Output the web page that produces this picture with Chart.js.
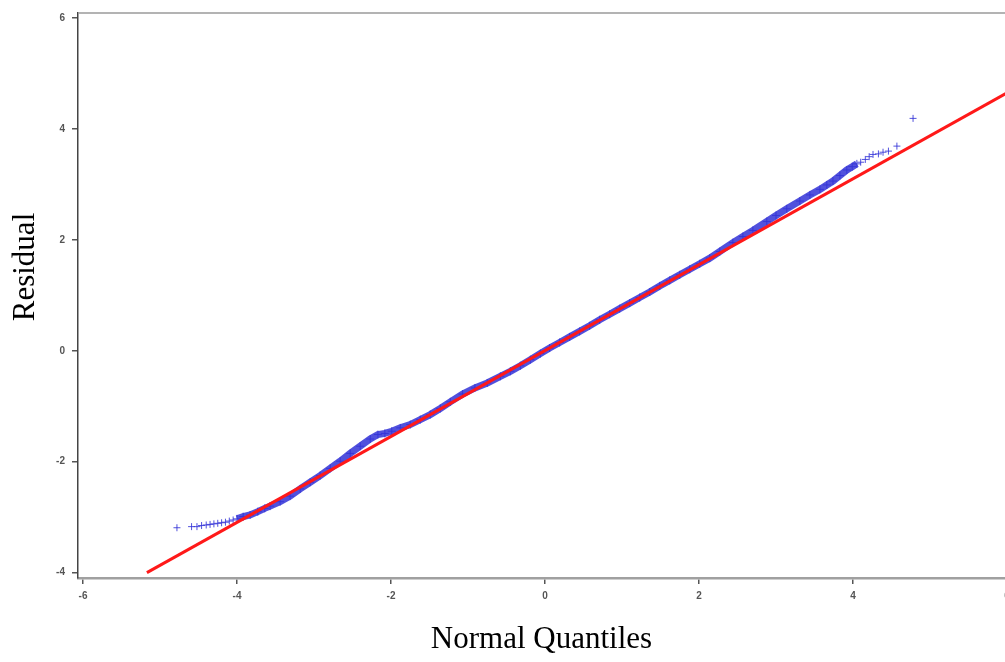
<!DOCTYPE html>
<html>
<head>
<meta charset="utf-8">
<script src="https://cdn.jsdelivr.net/npm/chart.js@4.4.1/dist/chart.umd.min.js"></script>
<style>
  html, body { margin: 0; padding: 0; background: #fff; }
  #wrap { width: 1005px; height: 662px; }
</style>
</head>
<body>
<div id="wrap"><canvas id="qq"></canvas></div>
<script>
// tick values
const xTicks = [-6, -4, -2, 0, 2, 4, 6];
const yTicks = [-4, -2, 0, 2, 4, 6];

// reference line (normal fit)
const refX = [-5.17, 6.0];
const refY = [-4.0, 4.65];

// lower tail residuals (isolated crosses)
const lowTailX = [-4.78, -4.59, -4.52, -4.46, -4.40, -4.35, -4.30, -4.25, -4.20, -4.15, -4.10, -4.05];
const lowTailY = [-3.19, -3.17, -3.17, -3.15, -3.14, -3.13, -3.12, -3.11, -3.10, -3.09, -3.07, -3.05];

// dense body of the residuals
const bodyX = [-4.00, -3.92, -3.83, -3.73, -3.64, -3.57, -3.44, -3.31, -3.18, -3.05,
  -2.92, -2.79, -2.66, -2.53, -2.40, -2.27, -2.17, -2.08, -1.99, -1.88,
  -1.75, -1.62, -1.49, -1.36, -1.23, -1.07, -0.91, -0.75, -0.58, -0.45,
  -0.32, -0.19, -0.06, 0.06, 0.19, 0.32, 0.45, 0.58, 0.71, 0.84,
  0.97, 1.10, 1.23, 1.36, 1.49, 1.62, 1.75, 1.88, 2.01, 2.14,
  2.27, 2.44, 2.57, 2.70, 2.88, 3.00, 3.14, 3.31, 3.44, 3.57,
  3.66, 3.74, 3.83, 3.92, 3.99, 4.05];
const bodyY = [-3.03, -2.99, -2.96, -2.90, -2.84, -2.80, -2.72, -2.62, -2.49, -2.37,
  -2.25, -2.12, -1.99, -1.85, -1.72, -1.59, -1.51, -1.49, -1.45, -1.39,
  -1.33, -1.24, -1.15, -1.04, -0.92, -0.78, -0.67, -0.58, -0.46, -0.37,
  -0.27, -0.16, -0.05, 0.05, 0.15, 0.25, 0.35, 0.45, 0.56, 0.66,
  0.76, 0.86, 0.96, 1.06, 1.17, 1.27, 1.37, 1.47, 1.57, 1.67,
  1.79, 1.95, 2.06, 2.17, 2.33, 2.44, 2.56, 2.70, 2.81, 2.91,
  2.99, 3.06, 3.16, 3.26, 3.32, 3.37];

// upper tail residuals
const highTailX = [4.10, 4.16, 4.21, 4.26, 4.33, 4.39, 4.46, 4.57, 4.78];
const highTailY = [3.40, 3.45, 3.50, 3.54, 3.55, 3.58, 3.60, 3.69, 4.19];

const blue = 'rgba(50, 50, 215, 0.85)';
const toPoints = (xs, ys) => xs.map((x, i) => ({ x: x, y: ys[i] }));

// y title and top frame line drawn by hand
const framePlugin = {
  id: 'frame',
  afterDraw(chart) {
    const { ctx, chartArea } = chart;
    ctx.save();
    ctx.strokeStyle = '#9a9a9a';
    ctx.lineWidth = 1.5;
    ctx.beginPath();
    ctx.moveTo(chartArea.left, chartArea.top);
    ctx.lineTo(chartArea.right, chartArea.top);
    ctx.stroke();

    ctx.translate(26, 267);
    ctx.rotate(-Math.PI / 2);
    ctx.fillStyle = '#000';
    ctx.font = '31px "Liberation Serif", "Times New Roman", serif';
    ctx.textAlign = 'center';
    ctx.textBaseline = 'middle';
    ctx.fillText('Residual', 0, 0);
    ctx.restore();
  }
};

const tickFont = { family: '"Liberation Sans", Arial, sans-serif', size: 10, weight: 'bold' };

new Chart(document.getElementById('qq'), {
  type: 'scatter',
  data: {
    datasets: [
      {
        label: 'Normal line',
        data: toPoints(refX, refY),
        showLine: true,
        borderColor: 'rgb(255, 25, 25)',
        borderWidth: 3,
        pointRadius: 0
      },
      {
        label: 'Residuals',
        data: toPoints(bodyX, bodyY),
        showLine: true,
        borderColor: blue,
        borderWidth: 7,
        pointStyle: 'cross',
        pointRadius: 4,
        pointBorderColor: blue,
        pointBorderWidth: 1
      },
      {
        label: 'Lower tail',
        data: toPoints(lowTailX, lowTailY),
        pointStyle: 'cross',
        pointRadius: 3.5,
        borderColor: blue,
        pointBorderWidth: 1
      },
      {
        label: 'Upper tail',
        data: toPoints(highTailX, highTailY),
        pointStyle: 'cross',
        pointRadius: 3.5,
        borderColor: blue,
        pointBorderWidth: 1
      }
    ]
  },
  options: {
    responsive: true,
    maintainAspectRatio: false,
    animation: false,
    layout: { autoPadding: false, padding: { top: 11, left: 0, right: 0, bottom: 0 } },
    plugins: {
      legend: { display: false },
      tooltip: { enabled: false }
    },
    scales: {
      x: {
        type: 'linear',
        min: -6.065,
        max: 5.974,
        afterBuildTicks: scale => { scale.ticks = xTicks.map(v => ({ value: v })); },
        afterFit: scale => {
          scale.height = 84;
          scale.paddingLeft = 0;
          scale.paddingRight = 0;
        },
        grid: { drawOnChartArea: false, drawTicks: true, tickLength: 6, color: '#555', lineWidth: 1.5 },
        border: { display: true, color: '#a0a0a0', width: 2.5 },
        ticks: { font: tickFont, color: '#555', padding: 6, maxRotation: 0 },
        title: {
          display: true,
          text: 'Normal Quantiles',
          color: '#000',
          font: { family: '"Liberation Serif", "Times New Roman", serif', size: 31 },
          padding: { top: 0, bottom: 4 }
        }
      },
      y: {
        type: 'linear',
        min: -4.096,
        max: 6.09,
        afterBuildTicks: scale => { scale.ticks = yTicks.map(v => ({ value: v })); },
        afterFit: scale => { scale.width = 78; },
        grid: { drawOnChartArea: false, drawTicks: true, tickLength: 6, color: '#555', lineWidth: 1.5 },
        border: { display: true, color: '#444', width: 1.5 },
        ticks: { font: tickFont, color: '#555', padding: 7 }
      }
    }
  },
  plugins: [framePlugin]
});
</script>
</body>
</html>
